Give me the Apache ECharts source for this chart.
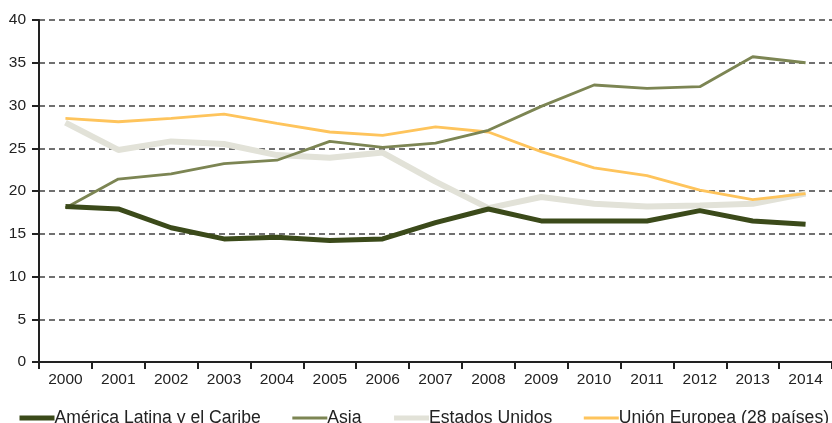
<!DOCTYPE html>
<html><head><meta charset="utf-8">
<script src="https://cdn.jsdelivr.net/npm/echarts@6/dist/echarts.min.js"></script>
<style>html,body{margin:0;padding:0;background:#fff}#c{width:832px;height:423px}</style>
</head><body><div id="c"></div>
<script>
const years = ['2000','2001','2002','2003','2004','2005','2006','2007','2008','2009','2010','2011','2012','2013','2014'];
const americaLatina = [18.2,17.9,15.7,14.4,14.6,14.2,14.4,16.3,17.9,16.5,16.5,16.5,17.7,16.5,16.1];
const asia = [18.0,21.4,22.0,23.2,23.6,25.8,25.1,25.6,27.1,29.9,32.4,32.0,32.2,35.7,35.0];
const estadosUnidos = [28.0,24.8,25.8,25.5,24.2,23.9,24.5,21.1,18.0,19.3,18.5,18.2,18.3,18.5,19.7];
const unionEuropea = [28.5,28.1,28.5,29.0,27.9,26.9,26.5,27.5,26.9,24.6,22.7,21.8,20.1,19.0,19.7];
const yTicks = [0,5,10,15,20,25,30,35,40];

const names = ['América Latina y el Caribe','Asia','Estados Unidos','Unión Europea (28 países)'];
const colors = ['#3b4a1a','#7c8553','#e2e2d8','#fec45c'];
const widths = [5,2.8,6,2.8];
const legendWidths = [5,3,5,3];
const chart = echarts.init(document.getElementById('c'), null, {renderer:'canvas'});
const font = '"Liberation Sans", Arial, sans-serif';
chart.setOption({
  animation:false,
  grid:{left:39, right:0, top:20, bottom:61},
  legend:{
    data:names.map((n,i)=>({name:n, lineStyle:{width:legendWidths[i], color:colors[i]}})),
    left:12, top:404, width:1000, itemWidth:35, itemHeight:14, itemGap:30,
    itemStyle:{opacity:0},
    textStyle:{fontFamily:font, fontSize:17.6, color:'#222', padding:[0,0,0,-5]}
  },
  xAxis:{
    type:'category', data:years, boundaryGap:true,
    axisLine:{lineStyle:{color:'#222', width:2}},
    axisTick:{show:true, length:7, lineStyle:{color:'#222', width:2}},
    axisLabel:{fontFamily:font, fontSize:15.5, color:'#222', margin:10}
  },
  yAxis:{
    type:'value', min:yTicks[0], max:yTicks[yTicks.length-1], interval:5,
    axisLine:{show:true, lineStyle:{color:'#222', width:2}},
    axisTick:{show:true, length:7, lineStyle:{color:'#222', width:2}},
    axisLabel:{fontFamily:font, fontSize:15.5, color:'#222', margin:13},
    splitLine:{show:true, lineStyle:{color:'#707070', width:2, type:[6,4]}}
  },
  series:[
    {name:names[2], type:'line', data:estadosUnidos, symbol:'none', z:2,
     lineStyle:{color:colors[2], width:widths[2]}, itemStyle:{color:colors[2]}},
    {name:names[3], type:'line', data:unionEuropea, symbol:'none', z:3,
     lineStyle:{color:colors[3], width:widths[3]}, itemStyle:{color:colors[3]}},
    {name:names[1], type:'line', data:asia, symbol:'none', z:4,
     lineStyle:{color:colors[1], width:widths[1]}, itemStyle:{color:colors[1]}},
    {name:names[0], type:'line', data:americaLatina, symbol:'none', z:5,
     lineStyle:{color:colors[0], width:widths[0]}, itemStyle:{color:colors[0]}}
  ]
});
</script></body></html>
